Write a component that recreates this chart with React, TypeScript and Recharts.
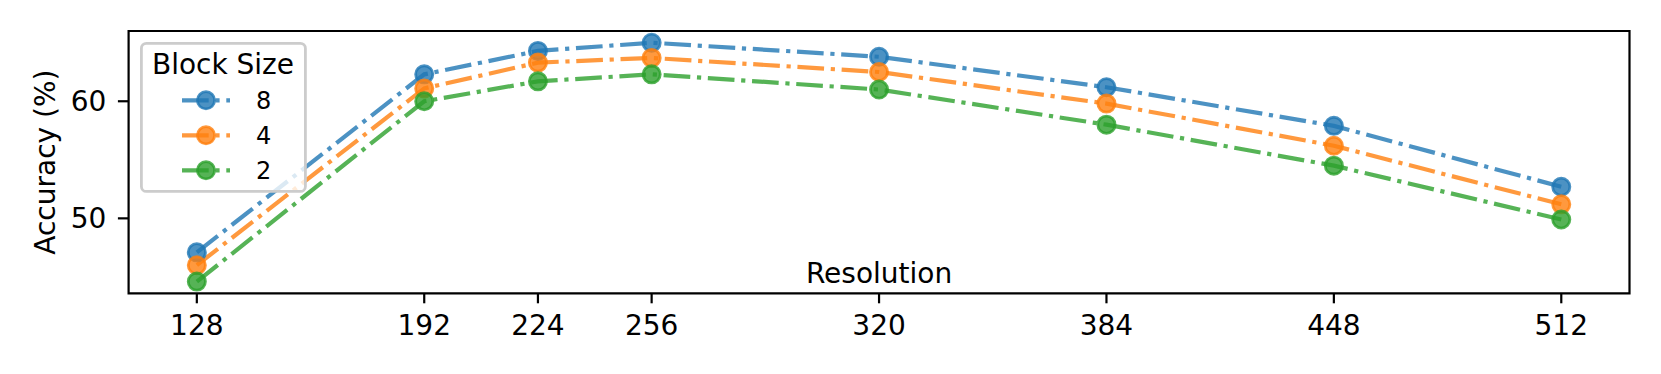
import { Legend, Line, LineChart, ReferenceArea, XAxis, YAxis } from "recharts";

const resolutions = [128, 192, 224, 256, 320, 384, 448, 512];
const block8 = [47.1, 62.3, 64.3, 65.0, 63.8, 61.2, 57.9, 52.7];
const block4 = [46.0, 61.1, 63.3, 63.7, 62.5, 59.8, 56.2, 51.2];
const block2 = [44.6, 60.0, 61.7, 62.3, 61.0, 58.0, 54.5, 49.9];
const yTicks = [50, 60];

const series = [
  { key: "b8", label: "8", values: block8, color: "#1f77b4" },
  { key: "b4", label: "4", values: block4, color: "#ff7f0e" },
  { key: "b2", label: "2", values: block2, color: "#2ca02c" },
];

const data = resolutions.map((r, i) => {
  const row: Record<string, number> = { res: r };
  series.forEach((s) => (row[s.key] = s.values[i]));
  return row;
});

const FONT = "DejaVu Sans, sans-serif";
const X_DOMAIN = [108.8, 531.2];
const Y_DOMAIN = [43.6, 66.0];
const DASH = "26.7 6.7 4.2 6.7";

function BlockLegend() {
  return (
    <svg width={167} height={152} style={{ display: "block", fontFamily: FONT }}>
      <rect x={1.4} y={1.4} width={164} height={148} rx={5} fill="#fff" fillOpacity={0.8} stroke="#ccc" strokeWidth={2.8} />
      <text x={83} y={31.5} textAnchor="middle" fontSize={28} fill="#000">Block Size</text>
      {series.map((s, i) => {
        const cy = 58.3 + i * 35;
        return (
          <g key={s.key}>
            <line x1={42} x2={90} y1={cy} y2={cy} stroke={s.color} strokeOpacity={0.8} strokeWidth={4.2} strokeDasharray={DASH} />
            <circle cx={66} cy={cy} r={8.6} fill={s.color} fillOpacity={0.8} stroke={s.color} strokeOpacity={0.8} strokeWidth={2.8} />
            <text x={116} y={cy} dy="0.36em" fontSize={24} fill="#000">{s.label}</text>
          </g>
        );
      })}
    </svg>
  );
}

function YLabel({ viewBox }: any) {
  const cx = 44.6;
  const cy = viewBox.y + viewBox.height / 2;
  return (
    <text x={cx} y={cy} transform={`rotate(-90 ${cx} ${cy})`} textAnchor="middle" dy="0.36em" fontSize={28} fontFamily={FONT} fill="#000">
      Accuracy (%)
    </text>
  );
}

export default function App() {
  return (
    <div style={{ position: "absolute", left: 0, top: 0, background: "#fff" }}>
      <LineChart width={1661} height={374} data={data} margin={{ top: 31, right: 31.5, left: 0, bottom: 0 }} style={{ fontFamily: FONT }}>
        <XAxis
          dataKey="res"
          type="number"
          domain={X_DOMAIN}
          ticks={resolutions}
          allowDataOverflow
          height={80.7}
          axisLine={false}
          tickSize={10}
          tickMargin={11.5}
          tickLine={{ stroke: "#000", strokeWidth: 2.2 }}
          tick={{ fontSize: 28, fill: "#000", fontFamily: FONT }}
          label={{ value: "Resolution", position: "top", offset: 10, fontSize: 28, fill: "#000", fontFamily: FONT }}
        />
        <YAxis
          type="number"
          domain={Y_DOMAIN}
          ticks={yTicks}
          allowDataOverflow
          width={128.6}
          axisLine={false}
          tickSize={10.7}
          tickMargin={11.5}
          tickLine={{ stroke: "#000", strokeWidth: 2.2 }}
          tick={{ fontSize: 28, fill: "#000", fontFamily: FONT }}
          label={<YLabel />}
        />
        <ReferenceArea x1={X_DOMAIN[0]} x2={X_DOMAIN[1]} y1={Y_DOMAIN[0]} y2={Y_DOMAIN[1]} fill="none" stroke="#000" strokeWidth={2.2} />
        {series.map((s) => (
          <Line
            key={s.key}
            dataKey={s.key}
            name={s.label}
            type="linear"
            stroke={s.color}
            strokeOpacity={0.8}
            strokeWidth={4.2}
            strokeDasharray={DASH}
            dot={{ r: 8.6, fill: s.color, fillOpacity: 0.8, stroke: s.color, strokeOpacity: 0.8, strokeWidth: 2.8, strokeDasharray: "none" }}
            activeDot={false}
            isAnimationActive={false}
          />
        ))}
        <Legend
          layout="horizontal"
          verticalAlign="middle"
          align="center"
          content={() => <BlockLegend />}
          wrapperStyle={{ position: "absolute", left: 139.5, top: 42, width: 167, height: 152 }}
        />
      </LineChart>
    </div>
  );
}
